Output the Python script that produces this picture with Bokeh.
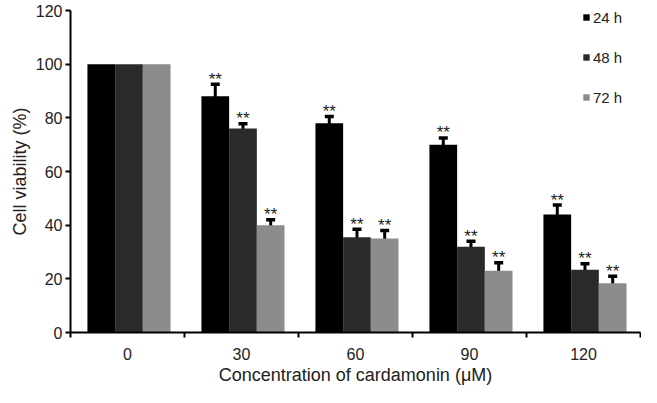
import numpy as np
from bokeh.plotting import figure
from bokeh.models import ColumnDataSource, FixedTicker, Whisker, TeeHead, Legend, LegendItem, Range1d
from bokeh.embed import file_html
from bokeh.resources import INLINE
from bokeh.core.properties import value

concentrations = ["0", "30", "60", "90", "120"]
series = ["24 h", "48 h", "72 h"]
v24 = [100, 88, 78, 70, 44]
v48 = [100, 76, 35.5, 32, 23.4]
v72 = [100, 40, 35, 23, 18.4]
e24 = [0, 4.5, 2.5, 2.5, 3.5]
e48 = [0, 1.8, 3, 2, 2.2]
e72 = [0, 2, 3, 3, 2.6]
colors = ["#000000", "#2a2a2a", "#8c8c8c"]
y_ticks = [0, 20, 40, 60, 80, 100, 120]
x_title = "Concentration of cardamonin (\u03bcM)"
y_title = "Cell viability (%)"

FONT = "Liberation Sans"

p = figure(width=641, height=387, output_backend="svg", toolbar_location=None,
           x_range=Range1d(0, 5), y_range=Range1d(0, 120),
           min_border_left=70, min_border_right=1, min_border_top=10, min_border_bottom=52)
p.outline_line_color = None
p.grid.visible = False
p.background_fill_color = "white"

bw = 0.243
vals = [v24, v48, v72]
errs = [e24, e48, e72]
items = []
for j in range(3):
    x = np.arange(5) + 0.513 + (j - 1) * bw
    v = np.array(vals[j], dtype=float)
    e = np.array(errs[j], dtype=float)
    src = ColumnDataSource(dict(x=x, top=v))
    r = p.vbar(x="x", top="top", width=bw, source=src, fill_color=colors[j],
               line_color=None)
    items.append(LegendItem(label=series[j], renderers=[r]))
    esrc = ColumnDataSource(dict(x=x[1:], upper=(v + e)[1:], lower=(v - e)[1:]))
    w = Whisker(base="x", upper="upper", lower="lower", source=esrc,
                line_color="black", line_width=3,
                upper_head=TeeHead(size=9, line_width=3.5, line_color="black"),
                lower_head=TeeHead(size=9, line_width=3.5, line_color="black"))
    p.add_layout(w)
    ssrc = ColumnDataSource(dict(x=x[1:], y=(v + e)[1:], t=["**"] * 4))
    p.text(x="x", y="y", text="t", source=ssrc, text_align="center",
           text_baseline="alphabetic", y_offset=-5, text_font=value(FONT),
           text_font_size="17px", text_color="#222222")

legend = Legend(items=items, location=(512, 225), orientation="vertical",
                glyph_width=8, glyph_height=8, label_height=20, spacing=20,
                padding=0, margin=0, label_standoff=3,
                label_text_font=FONT, label_text_font_size="15px",
                label_text_color="#222222", border_line_color=None,
                background_fill_alpha=0)
p.add_layout(legend)

# axes
xa = p.xaxis[0]
xa.ticker = FixedTicker(ticks=[0.5, 1.5, 2.5, 3.5, 4.5], minor_ticks=[0, 1, 2, 3, 4, 5])
xa.major_label_overrides = {0.5: "0", 1.5: "30", 2.5: "60", 3.5: "90", 4.5: "120"}
xa.major_tick_out = 0
xa.major_tick_in = 0
xa.minor_tick_out = 5
xa.minor_tick_in = 0
xa.minor_tick_line_color = "black"
xa.minor_tick_line_width = 2
xa.axis_line_width = 2
xa.axis_line_color = "black"
xa.major_label_text_font = FONT
xa.major_label_text_font_size = "16px"
xa.major_label_text_color = "#222222"
xa.major_label_standoff = 10
xa.axis_label = x_title
xa.axis_label_text_font = FONT
xa.axis_label_text_font_size = "18px"
xa.axis_label_text_font_style = "normal"
xa.axis_label_text_color = "#222222"
xa.axis_label_standoff = 2

ya = p.yaxis[0]
ya.ticker = FixedTicker(ticks=y_ticks, minor_ticks=[])
ya.major_tick_out = 5
ya.major_tick_in = 0
ya.major_tick_line_width = 2
ya.axis_line_width = 2
ya.major_label_text_font = FONT
ya.major_label_text_font_size = "16px"
ya.major_label_text_color = "#222222"
ya.major_label_standoff = 3
ya.axis_label = y_title
ya.axis_label_text_font = FONT
ya.axis_label_text_font_size = "18px"
ya.axis_label_text_font_style = "normal"
ya.axis_label_text_color = "#222222"
ya.axis_label_standoff = 3

open("out.html", "w").write(file_html(p, INLINE))
